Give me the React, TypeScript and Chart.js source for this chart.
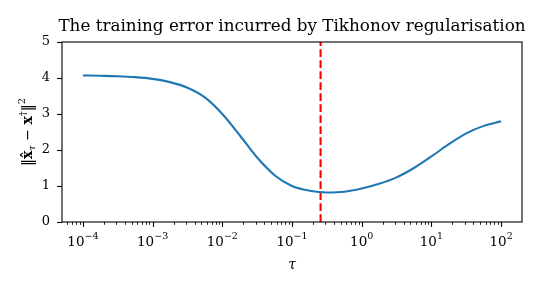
import React, { useEffect, useRef } from 'react';
import { Chart, registerables } from 'chart.js';

Chart.register(...registerables);

// Data
const tau = [
  1e-4, 1.778e-4, 3.162e-4, 5.623e-4,
  1e-3, 1.778e-3, 3.162e-3, 5.623e-3,
  1e-2, 1.778e-2, 3.162e-2, 5.623e-2,
  1e-1, 1.778e-1, 3.162e-1, 5.623e-1,
  1, 1.778, 3.162, 5.623,
  10, 17.78, 31.62, 56.23,
  100,
];
const trainingError = [
  4.07, 4.062, 4.05, 4.025,
  3.975, 3.885, 3.73, 3.46,
  3.0, 2.41, 1.79, 1.3,
  1.0, 0.87, 0.82, 0.84,
  0.93, 1.06, 1.24, 1.5,
  1.82, 2.16, 2.46, 2.67,
  2.8,
];
const tauStar = 0.257;

const decades = [1e-4, 1e-3, 1e-2, 1e-1, 1, 10, 100];
const xTickBase = '10';
const xTickExponents = ['−4', '−3', '−2', '−1', '0', '1', '2'];
const yTicks = [0, 1, 2, 3, 4, 5];
const xMin = 5.012e-5;
const xMax = 199.5;
const yMin = 0;
const yMax = 5;

const titleText = 'The training error incurred by Tikhonov regularisation';

const FONT = '"DejaVu Serif", serif';

function allXTicks(): number[] {
  const out: number[] = [];
  const base = [1e-5, ...decades];
  for (const d of base) {
    for (let m = 1; m <= 9; m++) {
      const v = +(d * m).toPrecision(6);
      if (v >= xMin && v <= xMax) out.push(v);
    }
  }
  return out.sort((a, b) => a - b);
}

function drawRich(
  ctx: CanvasRenderingContext2D,
  parts: { t: string; f: string; dy: number }[],
  cx: number,
  cy: number,
) {
  let w = 0;
  for (const p of parts) {
    ctx.font = p.f;
    w += ctx.measureText(p.t).width;
  }
  let x = cx - w / 2;
  for (const p of parts) {
    ctx.font = p.f;
    ctx.fillText(p.t, x, cy + p.dy);
    x += ctx.measureText(p.t).width;
  }
}

const decor = {
  id: 'decor',
  afterDraw(chart: any) {
    const ctx: CanvasRenderingContext2D = chart.ctx;
    const { left, right, top, bottom } = chart.chartArea;
    const xs = chart.scales.x;
    const ys = chart.scales.y;
    ctx.save();
    ctx.strokeStyle = '#000';
    // box
    ctx.lineWidth = 1.1;
    ctx.strokeRect(left, top, right - left, bottom - top);
    // x ticks
    for (const v of allXTicks()) {
      const px = Math.round(xs.getPixelForValue(v)) + 0.5;
      const major = decades.includes(v);
      ctx.lineWidth = major ? 1.1 : 0.85;
      ctx.beginPath();
      ctx.moveTo(px, bottom);
      ctx.lineTo(px, bottom + (major ? 4.9 : 2.8));
      ctx.stroke();
    }
    // y ticks
    for (const v of yTicks) {
      const py = Math.round(ys.getPixelForValue(v)) + 0.5;
      ctx.lineWidth = 1.1;
      ctx.beginPath();
      ctx.moveTo(left, py);
      ctx.lineTo(left - 4.9, py);
      ctx.stroke();
    }
    ctx.fillStyle = '#000';
    ctx.textAlign = 'left';
    ctx.textBaseline = 'alphabetic';
    // x tick labels with superscript exponents
    decades.forEach((d, i) => {
      const px = xs.getPixelForValue(d);
      drawRich(
        ctx,
        [
          { t: xTickBase, f: `13.5px ${FONT}`, dy: 0 },
          { t: xTickExponents[i], f: `9.5px ${FONT}`, dy: -7 },
        ],
        px,
        246,
      );
    });
    // title
    ctx.font = `16.8px ${FONT}`;
    ctx.textAlign = 'center';
    ctx.fillText(titleText, (left + right) / 2, 31);
    // x title
    ctx.font = `italic 14px ${FONT}`;
    ctx.fillText('τ', (left + right) / 2, 269);
    // y title
    ctx.save();
    ctx.translate(32, (top + bottom) / 2);
    ctx.rotate(-Math.PI / 2);
    ctx.textAlign = 'left';
    drawRich(
      ctx,
      [
        { t: '‖', f: `14px ${FONT}`, dy: 0 },
        { t: 'x̂', f: `bold 14px ${FONT}`, dy: 0 },
        { t: 'τ', f: `italic 10px ${FONT}`, dy: 3 },
        { t: ' − ', f: `14px ${FONT}`, dy: 0 },
        { t: 'x', f: `bold 14px ${FONT}`, dy: 0 },
        { t: '†', f: `10px ${FONT}`, dy: -6 },
        { t: '‖', f: `14px ${FONT}`, dy: 0 },
        { t: '2', f: `10px ${FONT}`, dy: -7 },
      ],
      0,
      0,
    );
    ctx.restore();
    ctx.restore();
  },
};

export default function App() {
  const ref = useRef<HTMLCanvasElement>(null);
  useEffect(() => {
    const canvas = ref.current!;
    const chart = new Chart(canvas, {
      type: 'line',
      data: {
        datasets: [
          {
            data: tau.map((t, i) => ({ x: t, y: trainingError[i] })),
            borderColor: '#1f77b4',
            borderWidth: 2.1,
            pointRadius: 0,
            cubicInterpolationMode: 'monotone',
            fill: false,
          },
          {
            data: [
              { x: tauStar, y: yMin },
              { x: tauStar, y: yMax },
            ],
            borderColor: '#ff0000',
            borderWidth: 2.1,
            borderDash: [7.7, 3.3],
            pointRadius: 0,
            fill: false,
          },
        ],
      },
      options: {
        animation: false,
        responsive: false,
        events: [],
        layout: { padding: { top: 42, right: 18, left: 0, bottom: 0 } },
        plugins: {
          legend: { display: false },
          tooltip: { enabled: false },
          title: { display: false },
        },
        scales: {
          x: {
            type: 'logarithmic',
            min: xMin,
            max: xMax,
            afterBuildTicks: (s: any) => {
              s.ticks = allXTicks().map((v) => ({ value: v }));
            },
            afterFit: (s: any) => {
              s.height = 66;
            },
            grid: { display: false, drawTicks: false },
            border: { display: false },
            ticks: { display: false },
          },
          y: {
            type: 'linear',
            min: yMin,
            max: yMax,
            afterFit: (s: any) => {
              s.width = 62;
            },
            grid: { display: false, drawTicks: false },
            border: { display: false },
            ticks: {
              stepSize: 1,
              padding: 12,
              color: '#000',
              font: { family: FONT, size: 13 },
            },
          },
        },
      },
      plugins: [decor],
    });
    return () => chart.destroy();
  }, []);
  return (
    <div style={{ position: 'fixed', left: 0, top: 0, width: 540, height: 288, background: '#fff' }}>
      <canvas ref={ref} width={540} height={288} style={{ width: 540, height: 288, display: 'block' }} />
    </div>
  );
}
